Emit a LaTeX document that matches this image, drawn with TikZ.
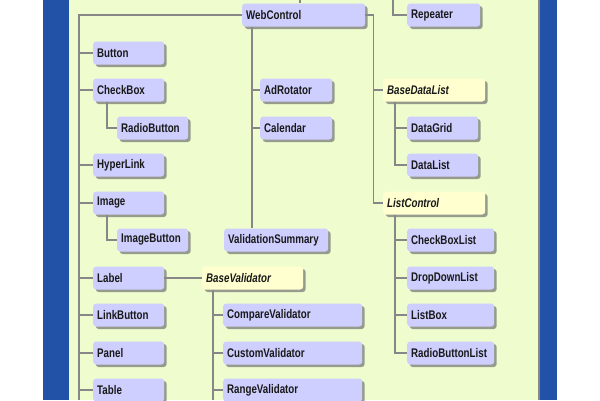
\documentclass[tikz,border=0pt]{standalone}
\usepackage{fontspec}
\newfontfamily\clsfont[FakeStretch=0.78]{Liberation Sans}
\usepackage{tikz}
\usetikzlibrary{shadows}

\definecolor{paper}{RGB}{238,252,206}
\definecolor{band}{RGB}{33,82,168}
\definecolor{clsfill}{RGB}{206,206,255}
\definecolor{absfill}{RGB}{255,255,208}
\definecolor{wire}{RGB}{135,135,135}

\begin{document}
\begin{tikzpicture}[x=1pt,y=-1pt]

  \tikzstyle{cls}=[anchor=west,rounded corners=3pt,fill=clsfill,minimum height=23pt,inner xsep=4pt,inner ysep=2pt,text width=63pt,text=black!90,font=\clsfont\bfseries\fontsize{12.5}{14}\selectfont,drop shadow={shadow xshift=2.5pt,shadow yshift=-2.5pt,fill=black!55,opacity=0.7}]
  \tikzstyle{abstract cls}=[cls,fill=absfill,font=\clsfont\bfseries\itshape\fontsize{12.5}{14}\selectfont]
  \tikzstyle{link}=[draw=wire,line width=1.5pt]

  % page and frame
  \useasboundingbox (0,0) rectangle (600,400);
  \fill[white] (0,0) rectangle (600,400);
  \fill[band] (43,0) rectangle (69,400);
  \fill[band] (539,0) rectangle (557,400);
  \fill[paper] (69,0) rectangle (538,400);
  \fill[wire] (537.5,0) rectangle (539.5,400);

  % classes
  \node[cls,text width=115pt] (webctl)   at (242,15)  {WebControl};
  \node[cls,text width=65pt]  (repeater) at (407,15)  {Repeater};

  \node[cls] (button)    at (93,53)   {Button};
  \node[cls] (checkbox)  at (93,90)   {CheckBox};
  \node[cls] (radiobtn)  at (117,128) {RadioButton};
  \node[cls] (hyperlink) at (93,165)  {HyperLink};
  \node[cls] (image)     at (93,203)  {Image};
  \node[cls] (imagebtn)  at (117,240) {ImageButton};
  \node[cls] (label)     at (93,278)  {Label};
  \node[cls] (linkbtn)   at (93,315)  {LinkButton};
  \node[cls] (panel)     at (93,353)  {Panel};
  \node[cls] (table)     at (93,390)  {Table};

  \node[cls,text width=64pt]  (adrot)    at (260,90)  {AdRotator};
  \node[cls,text width=64pt]  (calendar) at (260,128) {Calendar};
  \node[cls,text width=96pt]  (valsum)   at (224,240) {ValidationSummary};

  \node[abstract cls,text width=93pt] (baseval) at (202,278) {BaseValidator};
  \node[cls,text width=131pt] (compval)  at (223,315) {CompareValidator};
  \node[cls,text width=131pt] (custval)  at (223,353) {CustomValidator};
  \node[cls,text width=131pt] (rangeval) at (223,390) {RangeValidator};

  \node[abstract cls,text width=94pt] (basedl)  at (383,90)  {BaseDataList};
  \node[cls] (datagrid) at (407,128) {DataGrid};
  \node[cls] (datalist) at (407,165) {DataList};
  \node[abstract cls,text width=94pt] (listctl) at (383,203) {ListControl};
  \node[cls,text width=79pt] (cbl)     at (407,240) {CheckBoxList};
  \node[cls,text width=79pt] (ddl)     at (407,278) {DropDownList};
  \node[cls,text width=79pt] (listbox) at (407,315) {ListBox};
  \node[cls,text width=79pt] (rbl)     at (407,353) {RadioButtonList};

  % inheritance lines
  \coordinate (ctrl) at (300,0);
  \coordinate (rptop) at (393,0);
  \coordinate (lbottom) at (79,400);
  \coordinate (midtrunk) at ([xshift=10pt]webctl.south west);
  \coordinate (rtrunk) at ([xshift=8pt]webctl.east);
  \coordinate (vtrunk) at ([xshift=11pt]baseval.south west);
  \coordinate (vbottom) at (213,400);

  \draw[link] (ctrl) -- (ctrl |- webctl.north);
  \draw[link] (rptop) |- (repeater.west);
  \draw[link] (webctl.west) -| (lbottom);
  \foreach \cls in {button,checkbox,hyperlink,image,label,linkbtn,panel,table}
    \draw[link] (\cls.west) -- (\cls.west -| lbottom);
  \draw[link] ([xshift=14pt]checkbox.south west) |- (radiobtn.west);
  \draw[link] ([xshift=14pt]image.south west) |- (imagebtn.west);

  \draw[link] (midtrunk) -- (midtrunk |- valsum.north);
  \foreach \cls in {adrot,calendar}
    \draw[link] (\cls.west) -- (\cls.west -| midtrunk);

  \draw[link] (webctl.east) -- (rtrunk) |- (listctl.west);
  \draw[link] (basedl.west) -- (basedl.west -| rtrunk);
  \draw[link] ([xshift=12pt]basedl.south west) |- (datalist.west);
  \draw[link] (datagrid.west) -- ++(-12,0);
  \draw[link] ([xshift=12pt]listctl.south west) |- (rbl.west);
  \foreach \cls in {cbl,ddl,listbox}
    \draw[link] (\cls.west) -- ++(-12,0);

  \draw[link] (label.east) -- (baseval.west);
  \draw[link] (vtrunk) -- (vbottom);
  \foreach \cls in {compval,custval,rangeval}
    \draw[link] (\cls.west) -- (\cls.west -| vtrunk);

\end{tikzpicture}
\end{document}
